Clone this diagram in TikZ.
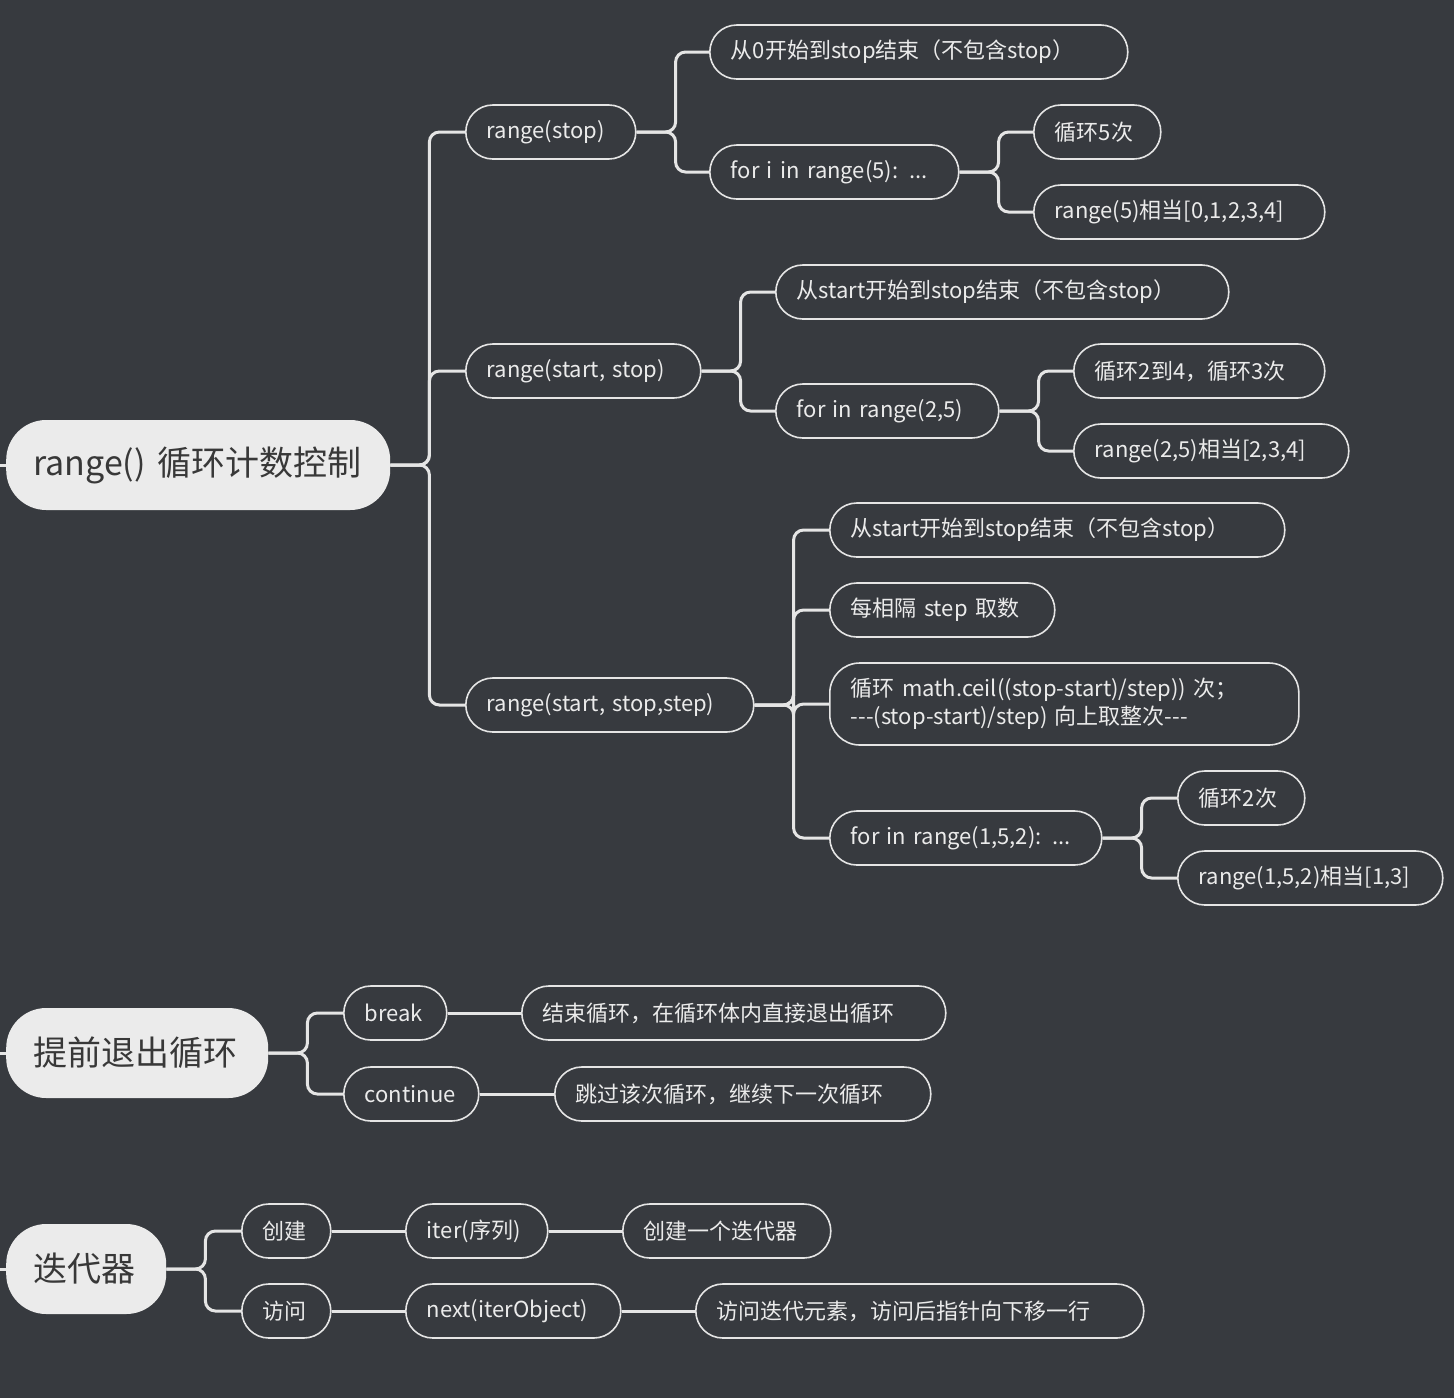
\documentclass[tikz,border=0pt]{standalone}
\usepackage{fontspec}
\setmainfont{Noto Sans CJK SC}
\begin{document}
\begin{tikzpicture}[x=1pt,y=-1pt,
  every node/.style={font=\fontsize{22}{28}\selectfont},
  w/.style={text width=#1pt-42pt},
  leaf/.style={draw=white!90!black,line width=1.6pt,rounded corners=27pt,text=white!92!black,minimum height=54pt,inner xsep=21pt,align=left,anchor=west},
  root/.style={fill=white!92!black,rounded corners=40pt,text=black!78,minimum height=90pt,inner xsep=27pt,align=left,anchor=west,font=\fontsize{34}{40}\selectfont},
  rw/.style={text width=#1pt-54pt},
  conn/.style={draw=white!90!black,line width=3pt,rounded corners=10pt}]
\fill[fill={rgb,255:red,55;green,58;blue,63}] (0,0) rectangle (1454,1398);
\useasboundingbox (0,0) rectangle (1454,1398);
\node[root,rw=384] (r1) at (6,465) {\mbox{range() 循环计数控制}};
\node[root,rw=262] (r2) at (6,1053) {\mbox{提前退出循环}};
\node[root,rw=160] (r3) at (6,1269) {\mbox{迭代器}};
\coordinate (s1) at (0,465); \coordinate (s2) at (0,1053); \coordinate (s3) at (0,1269);
\node[leaf,w=170] (a) at (465,132) {range(stop)};
\node[leaf,w=418] (a1) at (709,52) {从0开始到stop结束（不包含stop）};
\node[leaf,w=249] (a2) at (709,172) {for i in range(5): ...};
\node[leaf,w=127] (a21) at (1033,132) {循环5次};
\node[leaf,w=291] (a22) at (1033,212) {range(5)相当[0,1,2,3,4]};
\node[leaf,w=235] (b) at (465,371) {range(start, stop)};
\node[leaf,w=453] (b1) at (775,292) {从start开始到stop结束（不包含stop）};
\node[leaf,w=223] (b2) at (775,411) {for in range(2,5)};
\node[leaf,w=251] (b21) at (1073,371) {循环2到4，循环3次};
\node[leaf,w=275] (b22) at (1073,451) {range(2,5)相当[2,3,4]};
\node[leaf,w=288] (c) at (465,705) {range(start, stop,step)};
\node[leaf,w=455] (c1) at (829,530) {从start开始到stop结束（不包含stop）};
\node[leaf,w=225] (c2) at (829,610) {每相隔 step 取数};
\node[leaf,minimum height=82pt,rounded corners=30pt,w=469] (c3) at (829,704) {循环 math.ceil((stop-start)/step)) 次；\\-{}-{}-(stop-start)/step) 向上取整次-{}-{}-};
\node[leaf,w=272] (c4) at (829,838) {for in range(1,5,2): ...};
\node[leaf,w=127] (c41) at (1177,798) {循环2次};
\node[leaf,w=265] (c42) at (1177,878) {range(1,5,2)相当[1,3]};
\node[leaf,w=103] (d) at (343,1013) {break};
\node[leaf,w=424] (d1) at (521,1013) {结束循环，在循环体内直接退出循环};
\node[leaf,w=135] (e) at (343,1094) {continue};
\node[leaf,w=376] (e1) at (554,1094) {跳过该次循环，继续下一次循环};
\node[leaf,w=89] (f) at (241,1231) {创建};
\node[leaf,w=142] (f1) at (405,1231) {iter(序列)};
\node[leaf,w=208] (f2) at (622,1231) {创建一个迭代器};
\node[leaf,w=89] (g) at (241,1311) {访问};
\node[leaf,w=215] (g1) at (405,1311) {next(iterObject)};
\node[leaf,w=448] (g2) at (695,1311) {访问迭代元素，访问后指针向下移一行};
\draw[conn] (s1) -- (r1.west); \draw[conn] (s2) -- (r2.west); \draw[conn] (s3) -- (r3.west);
\foreach \p/\c in {r1/a,r1/b,r1/c,a/a1,a/a2,a2/a21,a2/a22,b/b1,b/b2,b2/b21,b2/b22,c/c1,c/c2,c/c3,c/c4,c4/c41,c4/c42,r2/d,r2/e,r3/f,r3/g}
  \draw[conn] (\p.east) -- ++(39,0) |- (\c.west);
\foreach \p/\c in {d/d1,e/e1,f/f1,f1/f2,g/g1,g1/g2}
  \draw[conn] (\p.east) -- (\c.west);
\end{tikzpicture}
\end{document}
